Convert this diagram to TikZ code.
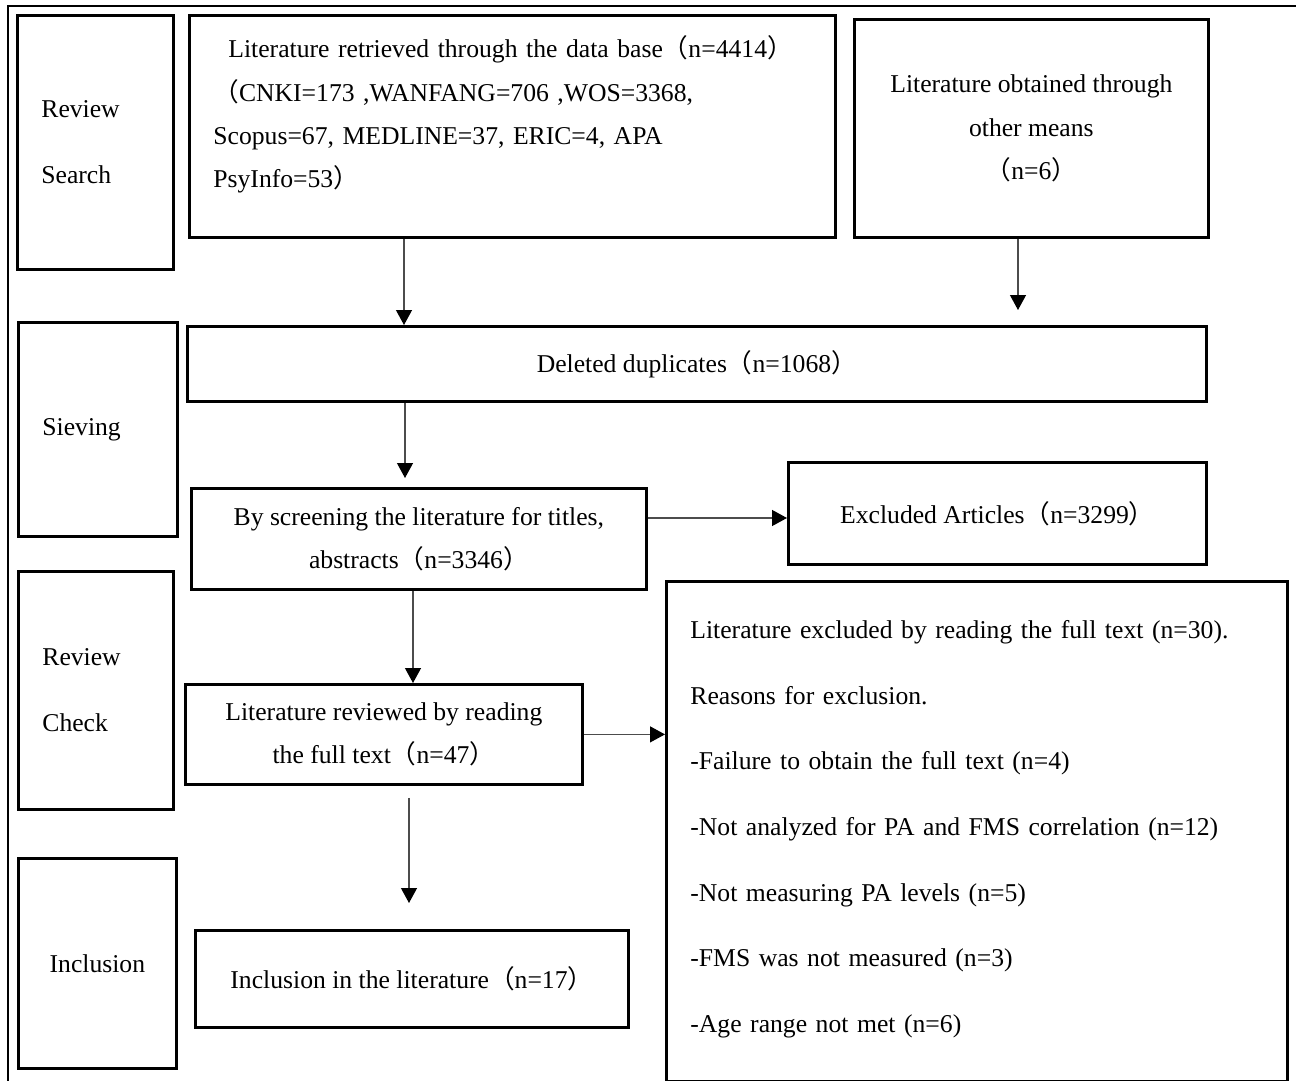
\documentclass[tikz,border=0pt]{standalone}
\usepackage{fontspec}
\setmainfont{Liberation Serif}
\newfontfamily\cjk{Noto Sans CJK SC}
\usetikzlibrary{arrows.meta,positioning}
\newcommand{\fwl}{{\cjk （}}
\newcommand{\fwr}{{\cjk ）}}

\begin{document}
\begin{tikzpicture}[x=0.02cm,y=-0.02cm,
                font=\fontsize{14.6}{24.6}\selectfont,
                frame/.style={draw,line width=1.6pt},
                box/.style n args={2}{frame,anchor=north west,minimum width=#1,minimum height=#2,inner sep=0pt,align=center},
                lbox/.style n args={3}{frame,anchor=north west,minimum width=#1,minimum height=#2,inner xsep=0.48cm,inner ysep=0pt,text width=#3,align=left},
                wide/.style={font=\fontsize{14.6}{37.4}\selectfont},
                arr/.style={-{Triangle[width=0.32cm,length=0.3cm,color=black]},line width=0.7pt,black!70}
            ]
                \useasboundingbox (0,0) rectangle (1296,1081);
                \draw[line width=1pt] (1296,6) -- (8,6) -- (8,1081);
                \node (search) [lbox={3.12cm}{5.08cm}{2.16cm},wide] at (16,14) {Review\\Search};
                \node (sieve) [lbox={3.18cm}{4.28cm}{2.22cm}] at (17,321) {Sieving};
                \node (check) [lbox={3.10cm}{4.76cm}{2.14cm},wide] at (17,570) {Review\\Check};
                \node (incl) [box={3.16cm}{4.2cm}] at (17,857) {Inclusion};
                \node (db) [lbox={12.92cm}{4.44cm}{11.96cm}] at (188,14) {\hspace*{0.3cm}Literature retrieved through the data base\fwl n=4414\fwr\\\fwl CNKI=173 ,WANFANG=706 ,WOS=3368,\\Scopus=67, MEDLINE=37, ERIC=4, APA\\PsyInfo=53\fwr\\[-0.28cm]\mbox{}};
                \node (other) [box={7.08cm}{4.36cm}] at (853,18) {Literature obtained through\\other means\\\fwl n=6\fwr};
                \node (dup) [box={20.38cm}{1.5cm}] at (186,325) {Deleted duplicates\fwl n=1068\fwr};
                \node (screen) [box={9.10cm}{2.02cm}] at (190,487) {By screening the literature for titles,\\abstracts\fwl n=3346\fwr};
                \node (excl) [box={8.36cm}{2.04cm}] at (787,461) {Excluded Articles\fwl n=3299\fwr};
                \node (review) [box={7.94cm}{2cm}] at (184,683) {Literature reviewed by reading\\the full text\fwl n=47\fwr};
                \node (reasons) [lbox={12.42cm}{10cm}{11.46cm},wide] at (665,580) {Literature excluded by reading the full text (n=30).\\Reasons for exclusion.\\-Failure to obtain the full text (n=4)\\-Not analyzed for PA and FMS correlation (n=12)\\-Not measuring PA levels (n=5)\\-FMS was not measured (n=3)\\-Age range not met (n=6)\\[-1.12cm]\mbox{}};
                \node (final) [box={8.66cm}{1.94cm}] at (194,929) {Inclusion in the literature\fwl n=17\fwr};
                \coordinate (dbx) at (404,0);
                \coordinate (otx) at (1018,0);
                \coordinate (dupx) at (405,0);
                \coordinate (scrx) at (413,0);
                \coordinate (scry) at (0,518);
                \coordinate (revx) at (409,0);
                \draw[arr] (db.south -| dbx) -- (dup.north -| dbx);
                \draw[arr,shorten >=0.3cm] (other.south -| otx) -- (dup.north -| otx);
                \draw[arr,shorten >=0.18cm] (dup.south -| dupx) -- (screen.north -| dupx);
                \draw[arr] (screen.east |- scry) -- (excl.west |- scry);
                \draw[arr] (screen.south -| scrx) -- (review.north -| scrx);
                \draw[arr] (review.east) -- (reasons.west |- review.east);
                \draw[arr,shorten <=0.24cm,shorten >=0.52cm] (review.south -| revx) -- (final.north -| revx);
            \end{tikzpicture}
\end{document}
